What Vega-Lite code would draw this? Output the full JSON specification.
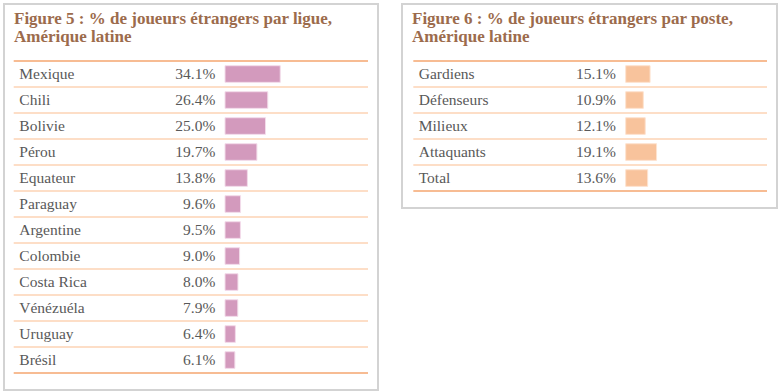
{
  "$schema": "https://vega.github.io/schema/vega-lite/v6.json",
  "padding": {"left": 3, "top": 3, "right": 0, "bottom": 0},
  "background": "white",
  "spacing": 22,
  "config": {"view": {"stroke": "#d3d3d3", "strokeWidth": 2}, "font": "Liberation Serif"},
  "datasets": {
    "ligue": [
      {"pays": "Mexique", "pct": 0.341},
      {"pays": "Chili", "pct": 0.264},
      {"pays": "Bolivie", "pct": 0.25},
      {"pays": "Pérou", "pct": 0.197},
      {"pays": "Equateur", "pct": 0.138},
      {"pays": "Paraguay", "pct": 0.096},
      {"pays": "Argentine", "pct": 0.095},
      {"pays": "Colombie", "pct": 0.09},
      {"pays": "Costa Rica", "pct": 0.08},
      {"pays": "Vénézuéla", "pct": 0.079},
      {"pays": "Uruguay", "pct": 0.064},
      {"pays": "Brésil", "pct": 0.061}
    ],
    "poste": [
      {"poste": "Gardiens", "pct": 0.151},
      {"poste": "Défenseurs", "pct": 0.109},
      {"poste": "Milieux", "pct": 0.121},
      {"poste": "Attaquants", "pct": 0.191},
      {"poste": "Total", "pct": 0.136}
    ]
  },
  "hconcat": [
    {
      "width": 374,
      "height": 386,
      "title": {"text": ["Figure 5 : % de joueurs étrangers par ligue,", "Amérique latine"], "anchor": "start", "frame": "group", "offset": -42, "dx": 10, "fontSize": 17, "fontWeight": "bold", "color": "#9c6b4c", "font": "Liberation Serif", "lineHeight": 18},
      "data": {"name": "ligue"},
      "layer": [
        {
          "mark": {"type": "bar", "color": "#d39abd", "stroke": "#f3dcea", "strokeWidth": 1, "height": {"band": 0.64}},
          "encoding": {
            "y": {"field": "pays", "type": "nominal", "sort": null, "axis": null,
                  "scale": {"domain": [" ", "  ", "Mexique", "Chili", "Bolivie", "Pérou", "Equateur", "Paraguay", "Argentine", "Colombie", "Costa Rica", "Vénézuéla", "Uruguay", "Brésil"], "paddingInner": 0, "paddingOuter": 0.423, "align": 0.229}},
            "x": {"field": "pct", "type": "quantitative", "axis": null, "scale": {"domain": [-1.3642, 0.9444], "nice": false, "zero": false}}
          }
        },
        {
          "transform": [{"filter": "datum.pays != 'Mexique'"}],
          "mark": {"type": "rule", "color": "#fdd3b5", "strokeWidth": 1.5},
          "encoding": {
            "y": {"field": "pays", "type": "nominal", "sort": null, "bandPosition": 0},
            "x": {"datum": -1.3043},
            "x2": {"datum": 0.8827}
          }
        },
        {
          "transform": [{"filter": "datum.pays == 'Mexique'"}],
          "mark": {"type": "rule", "color": "#f5a66f", "strokeWidth": 1.5},
          "encoding": {
            "y": {"field": "pays", "type": "nominal", "sort": null, "bandPosition": 0},
            "x": {"datum": -1.3043},
            "x2": {"datum": 0.8827}
          }
        },
        {
          "transform": [{"filter": "datum.pays == 'Brésil'"}],
          "mark": {"type": "rule", "color": "#f5a66f", "strokeWidth": 1.5},
          "encoding": {
            "y": {"field": "pays", "type": "nominal", "sort": null, "bandPosition": 1},
            "x": {"datum": -1.3043},
            "x2": {"datum": 0.8827}
          }
        },
        {
          "mark": {"type": "text", "align": "left", "baseline": "middle", "fontSize": 15.5, "color": "#595959"},
          "encoding": {
            "y": {"field": "pays", "type": "nominal", "sort": null},
            "x": {"datum": -1.2698},
            "text": {"field": "pays"}
          }
        },
        {
          "mark": {"type": "text", "align": "right", "baseline": "middle", "fontSize": 15.5, "color": "#595959"},
          "encoding": {
            "y": {"field": "pays", "type": "nominal", "sort": null},
            "x": {"datum": -0.0599},
            "text": {"field": "pct", "type": "quantitative", "format": ".1%"}
          }
        }
      ]
    },
    {
      "width": 375,
      "height": 204,
      "title": {"text": ["Figure 6 : % de joueurs étrangers par poste,", "Amérique latine"], "anchor": "start", "frame": "group", "offset": -42, "dx": 10, "fontSize": 17, "fontWeight": "bold", "color": "#9c6b4c", "font": "Liberation Serif", "lineHeight": 18},
      "data": {"name": "poste"},
      "layer": [
        {
          "mark": {"type": "bar", "color": "#f8c39c", "stroke": "#fde3d0", "strokeWidth": 1, "height": {"band": 0.64}},
          "encoding": {
            "y": {"field": "poste", "type": "nominal", "sort": null, "axis": null,
                  "scale": {"domain": [" ", "  ", "Gardiens", "Défenseurs", "Milieux", "Attaquants", "Total"], "paddingInner": 0, "paddingOuter": 0.423, "align": 0.229}},
            "x": {"field": "pct", "type": "quantitative", "axis": null, "scale": {"domain": [-1.3851, 0.9368], "nice": false, "zero": false}}
          }
        },
        {
          "transform": [{"filter": "datum.poste != 'Gardiens'"}],
          "mark": {"type": "rule", "color": "#fdd3b5", "strokeWidth": 1.5},
          "encoding": {
            "y": {"field": "poste", "type": "nominal", "sort": null, "bandPosition": 0},
            "x": {"datum": -1.315},
            "x2": {"datum": 0.875}
          }
        },
        {
          "transform": [{"filter": "datum.poste == 'Gardiens'"}],
          "mark": {"type": "rule", "color": "#f5a66f", "strokeWidth": 1.5},
          "encoding": {
            "y": {"field": "poste", "type": "nominal", "sort": null, "bandPosition": 0},
            "x": {"datum": -1.315},
            "x2": {"datum": 0.875}
          }
        },
        {
          "transform": [{"filter": "datum.poste == 'Total'"}],
          "mark": {"type": "rule", "color": "#f5a66f", "strokeWidth": 1.5},
          "encoding": {
            "y": {"field": "poste", "type": "nominal", "sort": null, "bandPosition": 1},
            "x": {"datum": -1.315},
            "x2": {"datum": 0.875}
          }
        },
        {
          "mark": {"type": "text", "align": "left", "baseline": "middle", "fontSize": 15.5, "color": "#595959"},
          "encoding": {
            "y": {"field": "poste", "type": "nominal", "sort": null},
            "x": {"datum": -1.2817},
            "text": {"field": "poste"}
          }
        },
        {
          "mark": {"type": "text", "align": "right", "baseline": "middle", "fontSize": 15.5, "color": "#595959"},
          "encoding": {
            "y": {"field": "poste", "type": "nominal", "sort": null},
            "x": {"datum": -0.0601},
            "text": {"field": "pct", "type": "quantitative", "format": ".1%"}
          }
        }
      ]
    }
  ]
}
